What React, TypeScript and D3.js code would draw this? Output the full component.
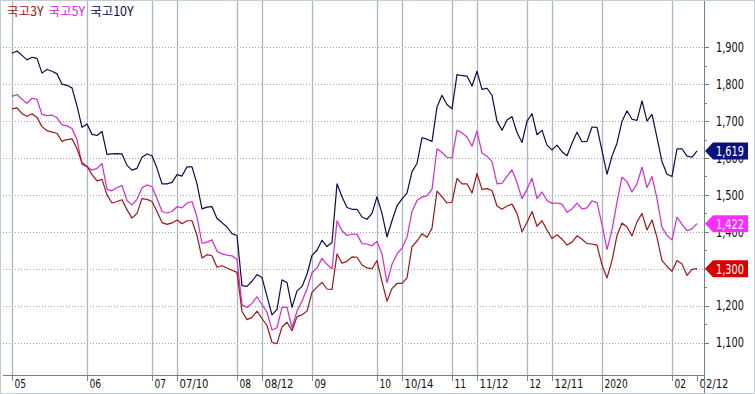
import React from "react";
import * as d3 from "d3";

// x-axis tick labels and the data index they sit on
const xLabels = ["05", "06", "07", "07/10", "08", "08/12", "09", "10", "10/14", "11", "11/12", "12", "12/11", "2020", "02", "02/12"];
const xLabelIdx = [0, 15, 28, 33, 45, 50, 60, 73, 78, 88, 93, 103, 108, 118, 132, 137];
const yearIdx = 118;

const yTicks = [1100, 1200, 1300, 1400, 1500, 1600, 1700, 1800, 1900];
const yMinor = [1150, 1250, 1350, 1450, 1550, 1650, 1750, 1850];

const seriesNames = ["국고3Y", "국고5Y", "국고10Y"];

const y3 = [
  1733, 1736, 1720, 1713, 1720, 1710, 1685, 1674, 1670, 1667, 1645, 1650, 1652, 1625, 1588, 1577, 1555, 1538, 1542, 1500,
  1478, 1482, 1487, 1460, 1437, 1450, 1490, 1488, 1482, 1455, 1425, 1420, 1424, 1432, 1422, 1430, 1430, 1390, 1329, 1338,
  1335, 1304, 1308, 1302, 1296, 1290, 1184, 1162, 1168, 1185, 1165, 1146, 1100, 1097, 1142, 1155, 1132, 1170, 1175, 1185,
  1236, 1250, 1263, 1245, 1244, 1340, 1315, 1320, 1332, 1331, 1310, 1302, 1300, 1322, 1265, 1212, 1246, 1260, 1260, 1275,
  1360, 1375, 1395, 1385, 1410, 1510, 1495, 1478, 1480, 1545, 1530, 1530, 1505, 1558, 1515, 1517, 1512, 1470, 1461, 1470,
  1475, 1450, 1400, 1425, 1455, 1415, 1430, 1405, 1382, 1392, 1380, 1364, 1372, 1389, 1380, 1368, 1367, 1364, 1310, 1275,
  1322, 1390, 1424, 1413, 1389, 1427, 1450, 1405, 1432, 1385, 1322, 1306, 1293, 1322, 1313, 1282, 1298, 1300,
];

const y5 = [
  1767, 1772, 1759, 1748, 1762, 1759, 1718, 1715, 1716, 1709, 1690, 1687, 1680, 1650, 1582, 1577, 1567, 1572, 1585, 1515,
  1511, 1520, 1525, 1485, 1473, 1488, 1519, 1527, 1522, 1490, 1455, 1451, 1455, 1468, 1465, 1478, 1482, 1440, 1369, 1372,
  1378, 1347, 1340, 1337, 1335, 1325, 1202, 1195, 1206, 1224, 1203, 1182, 1134, 1140, 1195, 1196, 1140, 1185, 1212, 1245,
  1289, 1302, 1328, 1312, 1300, 1430, 1403, 1390, 1394, 1393, 1368, 1367, 1362, 1374, 1340, 1262, 1312, 1340, 1356, 1385,
  1455, 1485, 1494, 1498, 1515, 1625, 1615, 1602, 1600, 1675, 1668, 1657, 1632, 1673, 1613, 1605, 1590, 1530, 1532, 1550,
  1568, 1533, 1490, 1515, 1545, 1490, 1508, 1485, 1477, 1478, 1475, 1453, 1462, 1478, 1462, 1465, 1484, 1479, 1420, 1352,
  1405, 1480, 1548, 1536, 1508, 1530, 1575, 1520, 1550, 1490, 1412, 1390, 1378, 1440, 1420, 1403, 1408, 1422,
];

const y10 = [
  1884, 1890, 1878, 1866, 1873, 1870, 1830, 1840, 1835, 1828, 1800, 1797, 1790, 1741, 1683, 1692, 1664, 1661, 1672, 1610,
  1611, 1612, 1611, 1580, 1567, 1572, 1602, 1611, 1606, 1572, 1530, 1530, 1534, 1555, 1551, 1576, 1576, 1530, 1462, 1467,
  1468, 1436, 1425, 1413, 1395, 1390, 1254, 1252, 1266, 1284, 1276, 1225, 1175, 1190, 1270, 1262, 1195, 1240, 1252, 1285,
  1336, 1350, 1377, 1360, 1371, 1530, 1495, 1466, 1461, 1461, 1440, 1434, 1450, 1495, 1450, 1386, 1430, 1470, 1489, 1505,
  1563, 1585, 1655, 1651, 1645, 1738, 1770, 1745, 1733, 1826, 1823, 1822, 1795, 1835, 1786, 1789, 1770, 1700, 1675, 1703,
  1712, 1669, 1642, 1700, 1720, 1663, 1675, 1635, 1622, 1635, 1617, 1606, 1640, 1670, 1644, 1645, 1684, 1683, 1620, 1556,
  1605, 1640, 1699, 1728, 1705, 1702, 1755, 1700, 1718, 1655, 1590, 1556, 1550, 1625, 1625, 1605, 1602, 1619,
];

const W = 755;
const H = 394;
const axisX = 704;
const axisY = 375;
const lineColors = ["#a11616", "#d62ad6", "#0c0c50"];
const tagColors = ["#d80000", "#ff2cff", "#0b137a"];
const narrow = "'Liberation Sans Narrow', 'Arial Narrow', 'DejaVu Sans Condensed', sans-serif";

export default function App() {
  const all = [y3, y5, y10];
  const n = y10.length;
  const x = d3.scaleLinear().domain([0, n - 1]).range([12, 697]);
  const y = d3.scaleLinear().domain([1100, 1900]).range([342.5, 47.3]);
  const fmt = d3.format(",");
  const line = d3
    .line<number>()
    .x((_, i) => x(i))
    .y((d) => y(d));

  return (
    <svg width={W} height={H} style={{ position: "absolute", left: 0, top: 0, background: "#fff" }}>
      <rect x={0.5} y={0.5} width={W - 1} height={H - 1} fill="#fff" stroke="#c4ccd4" />

      {/* horizontal dotted grid */}
      {yTicks.map((t) => (
        <line key={t} x1={3} x2={axisX} y1={Math.round(y(t)) + 0.5} y2={Math.round(y(t)) + 0.5}
          stroke="#9aa6b2" strokeDasharray="1,2" />
      ))}

      {/* vertical grid + bottom ticks */}
      {xLabelIdx.map((i, k) => {
        const px = Math.round(x(i)) + 0.5;
        const last = k === xLabelIdx.length - 1;
        return (
          <g key={k}>
            {!last && <line x1={px} x2={px} y1={1} y2={axisY} stroke="#aab6c2" strokeWidth={1.3} />}
            <line x1={px} x2={px} y1={axisY} y2={i === yearIdx ? H - 2 : axisY + 6} stroke="#7d8c9a" />
            <text x={px + 2} y={388} fontSize={12.5} fontFamily={narrow} fill="#111"
              textLength={xLabels[k].length * 5.8} lengthAdjust="spacingAndGlyphs">
              {xLabels[k]}
            </text>
          </g>
        );
      })}

      {/* axes */}
      <line x1={3} x2={axisX} y1={axisY + 0.5} y2={axisY + 0.5} stroke="#6f7f8e" />
      <line x1={axisX + 0.5} x2={axisX + 0.5} y1={1} y2={H - 1} stroke="#6f7f8e" />

      {/* right axis ticks and labels */}
      {yMinor.map((t) => (
        <line key={t} x1={axisX} x2={axisX + 3} y1={Math.round(y(t)) + 0.5} y2={Math.round(y(t)) + 0.5} stroke="#6f7f8e" />
      ))}
      {yTicks.map((t) => (
        <g key={t}>
          <line x1={axisX} x2={axisX + 5} y1={Math.round(y(t)) + 0.5} y2={Math.round(y(t)) + 0.5} stroke="#6f7f8e" />
          <text x={716} y={y(t)} dy="0.36em" fontSize={13.5} fontFamily={narrow} fill="#111"
            textLength={28} lengthAdjust="spacingAndGlyphs">
            {fmt(t)}
          </text>
        </g>
      ))}

      {/* series lines */}
      {[2, 1, 0].map((s) => (
        <path key={s} d={line(all[s]) ?? ""} fill="none" stroke={lineColors[s]} strokeWidth={1.2} strokeLinejoin="round" />
      ))}

      {/* last value tags */}
      {[2, 1, 0].map((s) => {
        const v = all[s][n - 1];
        const cy = y(v);
        const pts = [
          [axisX + 1, cy],
          [axisX + 9, cy - 8.5],
          [748, cy - 8.5],
          [748, cy + 8.5],
          [axisX + 9, cy + 8.5],
        ];
        return (
          <g key={s}>
            <polygon points={pts.map((p) => p.join(",")).join(" ")} fill={tagColors[s]} />
            <text x={716} y={cy} dy="0.36em" fontSize={13.5} fontFamily={narrow} fill="#fff"
              textLength={28} lengthAdjust="spacingAndGlyphs">
              {fmt(v)}
            </text>
          </g>
        );
      })}

      {/* legend */}
      <text x={7} y={16} fontSize={12.5} fontFamily="'Noto Sans CJK KR', sans-serif">
        {seriesNames.map((name, s) => (
          <tspan key={s} dx={s === 0 ? 0 : 5} fill={lineColors[s]}>
            {name}
          </tspan>
        ))}
      </text>
    </svg>
  );
}
